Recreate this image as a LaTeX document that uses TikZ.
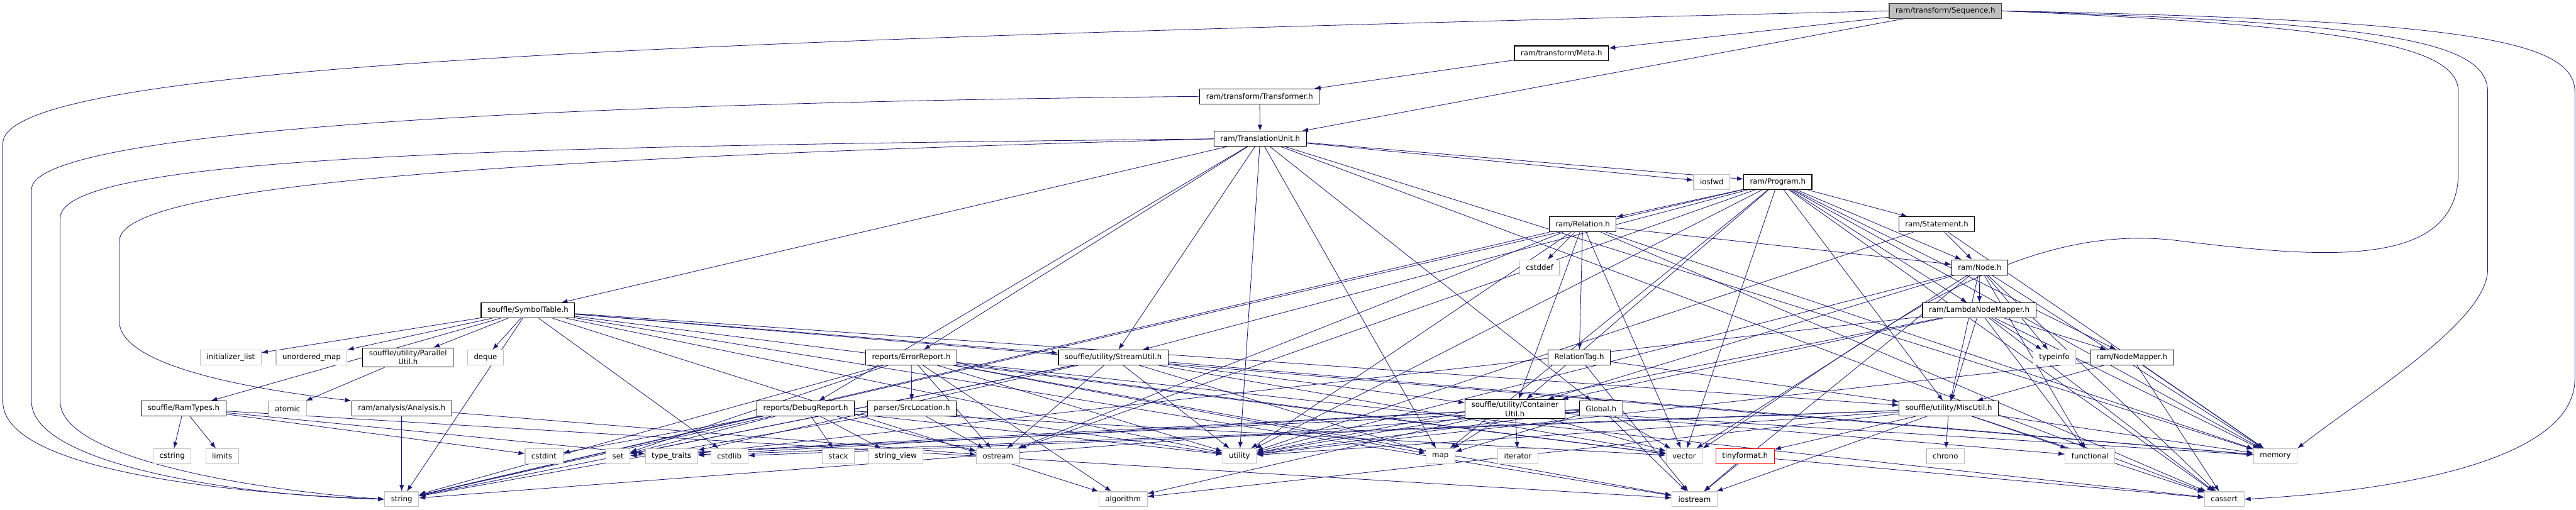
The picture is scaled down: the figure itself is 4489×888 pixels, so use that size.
\documentclass[tikz,border=0pt]{standalone}
\usepackage{fontspec}
\setmainfont{DejaVu Sans}
\usetikzlibrary{arrows.meta}
\definecolor{edgeblue}{HTML}{191970}
\definecolor{sysgray}{HTML}{BFBFBF}
\pgfdeclarelayer{edges}
\pgfsetlayers{edges,main}
\tikzset{
  hdr/.style={draw=black, fill=white, line width=1.2pt, inner xsep=11pt, inner ysep=4pt,
    minimum height=26pt, font=\fontsize{12.9}{15.5}\selectfont, align=center},
  sys/.style={hdr, draw=sysgray},
  root/.style={hdr, draw=black!75, fill=sysgray},
  bad/.style={hdr, draw=red},
  dep/.style={draw=edgeblue, line width=0.9pt, -{Latex[length=11pt,width=8pt]}}
}
\begin{document}
\begin{tikzpicture}[x=1pt,y=-1pt]
\useasboundingbox (0,0) rectangle (4489,888);

\node[root] (seq) at (3390,19) {ram/transform/Sequence.h};
\node[hdr] (meta) at (2721,93) {ram/transform/Meta.h};
\node[hdr] (transf) at (2195,168) {ram/transform/Transformer.h};
\node[hdr] (tu) at (2196,242) {ram/TranslationUnit.h};
\node[sys] (iosfwd) at (2983,317) {iosfwd};
\node[hdr] (prog) at (3098,317) {ram/Program.h};
\node[hdr] (rel) at (2758,391) {ram/Relation.h};
\node[hdr] (stmt) at (3375,391) {ram/Statement.h};
\node[sys] (cstddef) at (2683,466) {cstddef};
\node[hdr] (node) at (3450,466) {ram/Node.h};
\node[hdr] (symtab) at (920,541) {souffle/SymbolTable.h};
\node[hdr] (lnm) at (3449,541) {ram/LambdaNodeMapper.h};
\node[sys] (initlist) at (402,623) {initializer\_list};
\node[sys] (umap) at (543,623) {unordered\_map};
\node[hdr] (parutil) at (711,623) {souffle/utility/Parallel\\Util.h};
\node[sys] (deque) at (846,623) {deque};
\node[hdr] (errrep) at (1588,623) {reports/ErrorReport.h};
\node[hdr] (strutil) at (1940,623) {souffle/utility/StreamUtil.h};
\node[hdr] (reltag) at (2752,623) {RelationTag.h};
\node[sys] (typeinfo) at (3580,623) {typeinfo};
\node[hdr] (nmap) at (3715,623) {ram/NodeMapper.h};
\node[hdr] (ramtypes) at (320,712) {souffle/RamTypes.h};
\node[sys] (atomic) at (501,712) {atomic};
\node[hdr] (analysis) at (700,712) {ram/analysis/Analysis.h};
\node[hdr] (debugrep) at (1404,712) {reports/DebugReport.h};
\node[hdr] (srcloc) at (1589,712) {parser/SrcLocation.h};
\node[hdr] (contutil) at (2640,713) {souffle/utility/Container\\Util.h};
\node[hdr] (global) at (2790,712) {Global.h};
\node[hdr] (misc) at (3396,712) {souffle/utility/MiscUtil.h};
\node[sys] (cstring) at (300,795) {cstring};
\node[sys] (limits) at (387,795) {limits};
\node[sys] (cstdint) at (948,795) {cstdint};
\node[sys] (set) at (1077,795) {set};
\node[sys] (typetraits) at (1170,795) {type\_traits};
\node[sys] (cstdlib) at (1271,795) {cstdlib};
\node[sys] (stack) at (1461,795) {stack};
\node[sys] (stringview) at (1561,795) {string\_view};
\node[sys] (ostream) at (1739,795) {ostream};
\node[sys] (utility) at (2160,795) {utility};
\node[sys] (map) at (2510,795) {map};
\node[sys] (iterator) at (2645,795) {iterator};
\node[sys] (vector) at (2935,795) {vector};
\node[bad] (tinyformat) at (3041,795) {tinyformat.h};
\node[sys] (chrono) at (3390,795) {chrono};
\node[sys] (functional) at (3642,795) {functional};
\node[sys] (memory) at (3965,795) {memory};
\node[sys] (string) at (700,870) {string};
\node[sys] (algorithm) at (1957,870) {algorithm};
\node[sys] (iostream) at (2953,870) {iostream};
\node[sys] (cassert) at (3876,870) {cassert};

\begin{pgfonlayer}{edges}
\foreach \a/\b in {seq/meta, seq/tu, meta/transf, transf/tu,
    tu/iosfwd, tu/prog, tu/symtab, tu/errrep, tu/strutil, tu/debugrep, tu/global,
    tu/utility, tu/map, tu/memory, tu/cassert,
    prog/stmt, prog/node, prog/lnm, prog/nmap, prog/rel, prog/contutil, prog/misc,
    prog/strutil, prog/cassert, prog/map, prog/memory, prog/ostream, prog/string,
    prog/utility, prog/vector,
    rel/cstddef, rel/reltag, rel/node, rel/contutil, rel/cassert, rel/memory,
    rel/ostream, rel/string, rel/utility, rel/vector,
    stmt/node, stmt/utility, stmt/memory,
    node/lnm, node/typeinfo, node/contutil, node/misc, node/cassert, node/functional,
    node/iostream, node/memory, node/vector, node/utility,
    lnm/typeinfo, lnm/nmap, lnm/contutil, lnm/misc, lnm/functional, lnm/memory,
    lnm/utility, lnm/cassert, lnm/typetraits,
    nmap/misc, nmap/memory, nmap/cassert, nmap/utility}
  \draw[dep] (\a) -- (\b);

\foreach \a/\b in {misc/tinyformat, misc/chrono, misc/memory, misc/cassert, misc/algorithm,
    misc/iostream, misc/typetraits, misc/utility, misc/cstdlib, misc/functional,
    tinyformat/iostream, tinyformat/cassert,
    contutil/map, contutil/iterator, contutil/vector, contutil/utility, contutil/memory,
    contutil/functional, contutil/typetraits, contutil/algorithm, contutil/set,
    global/vector, global/iostream, global/map, global/utility, global/string, global/set,
    strutil/contutil, strutil/map, strutil/ostream, strutil/utility, strutil/memory,
    strutil/set, strutil/string, strutil/vector, strutil/typetraits,
    errrep/srcloc, errrep/utility, errrep/algorithm, errrep/cassert, errrep/ostream,
    errrep/set, errrep/string, errrep/vector, errrep/iostream, errrep/map,
    srcloc/ostream, srcloc/string, srcloc/utility,
    debugrep/stack, debugrep/string, debugrep/cstdint, debugrep/stringview,
    debugrep/ostream, debugrep/set, debugrep/utility, debugrep/vector,
    analysis/string, analysis/ostream,
    ramtypes/cstring, ramtypes/limits, ramtypes/cstdint, ramtypes/typetraits, ramtypes/iostream,
    symtab/initlist, symtab/umap, symtab/parutil, symtab/deque, symtab/ramtypes,
    symtab/misc, symtab/strutil, symtab/algorithm, symtab/cstdlib, symtab/iostream,
    symtab/string, symtab/utility, symtab/vector, symtab/memory,
    parutil/atomic, reltag/misc, reltag/iostream}
  \draw[dep] (\a) -- (\b);

\draw[dep] (seq.west) .. controls (1200,70) and (5,110) .. (5,250) -- (5,700)
  .. controls (5,820) and (400,860) .. (string.west);
\draw[dep] (transf.west) .. controls (900,180) and (55,230) .. (55,330) -- (55,700)
  .. controls (55,810) and (420,865) .. (string.west);
\draw[dep] (tu.west) .. controls (900,255) and (105,270) .. (105,380) -- (105,700)
  .. controls (105,800) and (450,855) .. (string.west);
\draw[dep] (tu.west) .. controls (900,275) and (208,320) .. (208,420) -- (208,560)
  .. controls (208,640) and (450,680) .. (analysis.north west);
\draw[dep] (seq.east) .. controls (4300,35) and (4487,70) .. (4487,160) -- (4487,660)
  .. controls (4487,820) and (4100,860) .. (cassert.east);
\draw[dep] (seq.east) .. controls (4150,40) and (4335,70) .. (4335,160) -- (4335,470)
  .. controls (4335,560) and (4120,690) .. (memory.north east);
\draw[dep] (seq.east) .. controls (4100,45) and (4284,80) .. (4284,160) -- (4284,300)
  .. controls (4284,470) and (4050,450) .. (3800,420)
  .. controls (3500,380) and (3250,600) .. (vector.north east);
\end{pgfonlayer}
\end{tikzpicture}
\end{document}
